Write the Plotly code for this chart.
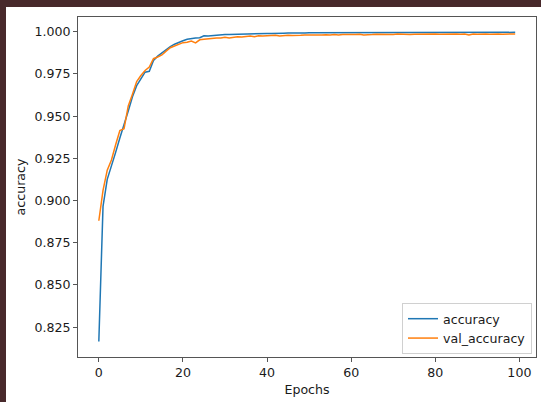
import plotly.graph_objects as go

# Training history: per-epoch accuracy on the training and validation sets
epochs = list(range(100))

accuracy = [
    0.8165, 0.8965, 0.9125, 0.9200, 0.9285, 0.9370, 0.9445, 0.9530, 0.9615, 0.9680,
    0.9720, 0.9760, 0.9765, 0.9830, 0.9855, 0.9875, 0.9895, 0.9912, 0.9926, 0.9938,
    0.9946, 0.9955, 0.9960, 0.9962, 0.9964, 0.9976, 0.9975, 0.9978, 0.9980, 0.9981,
    0.9983, 0.9984, 0.9985, 0.9986, 0.9986, 0.9988, 0.9987, 0.9988, 0.9989, 0.9988,
    0.9990, 0.9989, 0.9991, 0.9990, 0.9991, 0.9992, 0.9991, 0.9992, 0.9993, 0.9992,
    0.9993, 0.9993, 0.9994, 0.9993, 0.9994, 0.9994, 0.9993, 0.9995, 0.9994, 0.9994,
    0.9995, 0.9994, 0.9995, 0.9994, 0.9995, 0.9995, 0.9994, 0.9995, 0.9996, 0.9995,
    0.9995, 0.9996, 0.9995, 0.9995, 0.9996, 0.9995, 0.9996, 0.9996, 0.9995, 0.9996,
    0.9996, 0.9995, 0.9996, 0.9996, 0.9997, 0.9996, 0.9996, 0.9995, 0.9996, 0.9997,
    0.9996, 0.9996, 0.9997, 0.9996, 0.9996, 0.9997, 0.9996, 0.9997, 0.9996, 0.9996,
]

val_accuracy = [
    0.8880, 0.9060, 0.9180, 0.9240, 0.9330, 0.9415, 0.9425, 0.9560, 0.9630, 0.9705,
    0.9740, 0.9770, 0.9790, 0.9840, 0.9850, 0.9862, 0.9885, 0.9905, 0.9915, 0.9925,
    0.9935, 0.9937, 0.9944, 0.9934, 0.9952, 0.9955, 0.9958, 0.9958, 0.9962, 0.9962,
    0.9967, 0.9962, 0.9968, 0.9970, 0.9968, 0.9972, 0.9975, 0.9970, 0.9976, 0.9975,
    0.9977, 0.9976, 0.9979, 0.9974, 0.9978, 0.9979, 0.9977, 0.9980, 0.9979, 0.9981,
    0.9980, 0.9982, 0.9978, 0.9981, 0.9982, 0.9980, 0.9983, 0.9981, 0.9984, 0.9982,
    0.9984, 0.9983, 0.9985, 0.9981, 0.9984, 0.9983, 0.9985, 0.9984, 0.9982, 0.9985,
    0.9984, 0.9986, 0.9984, 0.9985, 0.9983, 0.9985, 0.9986, 0.9984, 0.9986, 0.9985,
    0.9987, 0.9985, 0.9986, 0.9984, 0.9986, 0.9987, 0.9985, 0.9986, 0.9980, 0.9986,
    0.9985, 0.9987, 0.9986, 0.9985, 0.9987, 0.9986, 0.9985, 0.9987, 0.9986, 0.9986,
]

y_ticks = [0.825, 0.850, 0.875, 0.900, 0.925, 0.950, 0.975, 1.000]
x_ticks = [0, 20, 40, 60, 80, 100]

FONT = "DejaVu Sans"
FS = 12.6
TXT = "#1a1a1a"
SPINE = "#555555"
W, H = 541, 402
ML, MR, MT, MB = 78, 5, 17, 45
PW, PH = W - ML - MR, H - MT - MB


def px_x(p):
    return (p - ML) / PW


def px_y(p):
    return (H - MB - p) / PH


fig = go.Figure()
fig.add_trace(go.Scatter(x=epochs, y=accuracy, mode="lines", name="accuracy",
                         line=dict(color="#1f77b4", width=1.5)))
fig.add_trace(go.Scatter(x=epochs, y=val_accuracy, mode="lines", name="val_accuracy",
                         line=dict(color="#ff7f0e", width=1.5)))

fig.update_layout(
    width=W, height=H,
    margin=dict(l=ML, r=MR, t=MT, b=MB, pad=0),
    paper_bgcolor="#48292b",
    plot_bgcolor="white",
    font=dict(family=FONT, size=FS, color=TXT),
    showlegend=True,
    legend=dict(
        x=px_x(532), y=px_y(354), xanchor="right", yanchor="bottom",
        bgcolor="rgba(255,255,255,0.9)", bordercolor="#d0d0d0", borderwidth=1,
        font=dict(family=FONT, size=FS, color=TXT),
        itemwidth=30,
    ),
    shapes=[
        # white figure canvas inside the dark frame
        dict(type="rect", xref="paper", yref="paper", layer="below",
             x0=px_x(6), x1=px_x(W + 2), y0=px_y(H + 2), y1=px_y(7),
             fillcolor="white", line=dict(width=0)),
    ],
)

fig.update_xaxes(
    range=[-4.95, 103.95], tickvals=x_ticks, ticks="outside", ticklen=4,
    tickwidth=1, tickcolor=SPINE, showline=True, linecolor=SPINE, linewidth=1,
    mirror=True, showgrid=False, zeroline=False,
    tickfont=dict(family=FONT, size=FS, color=TXT),
    title=dict(text="Epochs", font=dict(family=FONT, size=FS, color=TXT), standoff=6),
)
fig.update_yaxes(
    range=[0.8073, 1.0087], tickvals=y_ticks, tickformat=".3f", ticks="outside",
    ticklen=4, tickwidth=1, tickcolor=SPINE, showline=True, linecolor=SPINE,
    linewidth=1, mirror=True, showgrid=False, zeroline=False,
    tickfont=dict(family=FONT, size=FS, color=TXT),
    title=dict(text="accuracy", font=dict(family=FONT, size=FS, color=TXT), standoff=6),
)

fig.write_html("out.html")
